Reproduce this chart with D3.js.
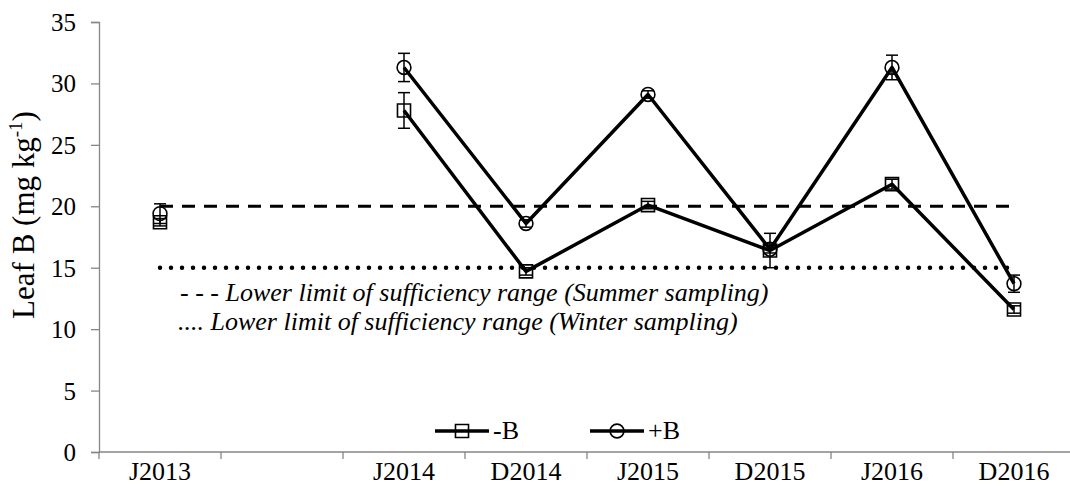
<!DOCTYPE html>
<html>
<head>
<meta charset="utf-8">
<script src="https://cdn.jsdelivr.net/npm/d3@7"></script>
<style>
  body { margin: 0; background: #fff; }
</style>
</head>
<body>
<script>
// categories on the x axis (one empty slot between J2013 and J2014)
var categories = ['J2013', '', 'J2014', 'D2014', 'J2015', 'D2015', 'J2016', 'D2016'];

// leaf B means and error bars, null = no sample
var minusB = [18.7, null, 27.8, 14.7, 20.1, 16.4, 21.8, 11.6];
var minusBErr = [0.3, null, 1.45, 0.3, 0.3, 1.4, 0.4, 0.3];
var plusB = [19.4, null, 31.3, 18.6, 29.1, 16.5, 31.3, 13.7];
var plusBErr = [0.8, null, 1.15, 0.3, 0.3, 0.3, 1.0, 0.7];

var summerLimit = 20;
var winterLimit = 15;
var yTicks = [0, 5, 10, 15, 20, 25, 30, 35];
var notes = [
  '- - - Lower limit of sufficiency range (Summer sampling)',
  '.... Lower limit of sufficiency range (Winter sampling)'
];

var width = 1070;
var height = 487;
var margin = { left: 99, right: -5, top: 22, bottom: 35 };
var serif = '"Liberation Serif", "Times New Roman", Times, serif';

var svg = d3.select('body').append('svg')
  .attr('width', width)
  .attr('height', height)
  .style('font-family', serif);

var x = d3.scaleBand()
  .domain(categories.map(function (d, i) { return i; }))
  .range([margin.left, width - margin.right])
  .paddingInner(0).paddingOuter(0);

var y = d3.scaleLinear()
  .domain([0, 35])
  .range([height - margin.bottom, margin.top]);

function cx(i) { return x(i) + x.bandwidth() / 2; }

function txt(sel, size) {
  return sel.style('font-family', serif).style('font-size', (size || 26) + 'px').attr('fill', '#000');
}

// y axis
var yAxis = svg.append('g')
  .attr('transform', 'translate(' + margin.left + ',0)')
  .call(d3.axisLeft(y).tickValues(yTicks).tickSize(8).tickPadding(15));
yAxis.attr('font-family', null).attr('font-size', null);
yAxis.select('.domain').attr('stroke', '#868686').attr('stroke-width', 1.3);
yAxis.selectAll('.tick line').attr('stroke', '#868686').attr('stroke-width', 1.3);
txt(yAxis.selectAll('.tick text'), 25).attr('dy', '0.34em');

// x axis: ticks sit between categories
var xAxisG = svg.append('g')
  .attr('transform', 'translate(0,' + y(0) + ')');
xAxisG.append('line')
  .attr('x1', margin.left).attr('x2', width + 5)
  .attr('stroke', '#868686').attr('stroke-width', 1.3);
xAxisG.selectAll('.tk')
  .data(categories.map(function (d, i) { return i; }))
  .enter().append('line')
  .attr('x1', function (i) { return x(i); })
  .attr('x2', function (i) { return x(i); })
  .attr('y1', 0).attr('y2', 7)
  .attr('stroke', '#868686').attr('stroke-width', 1.3);
txt(xAxisG.selectAll('.lbl')
  .data(categories)
  .enter().append('text')
  .attr('x', function (d, i) { return cx(i); })
  .attr('y', 28)
  .attr('text-anchor', 'middle')
  .text(function (d) { return d; }), 26);

// y label
var yl = txt(svg.append('text')
  .attr('transform', 'translate(34,' + 215 + ') rotate(-90)')
  .attr('text-anchor', 'middle'), 31);
yl.append('tspan').text('Leaf B (mg kg');
yl.append('tspan').attr('dy', -12).style('font-size', '19px').text('-1');
yl.append('tspan').attr('dy', 12).text(')');

// reference lines from first to last category
var first = 0, last = categories.length - 1;
svg.append('line')
  .attr('x1', cx(first)).attr('x2', cx(last))
  .attr('y1', y(summerLimit)).attr('y2', y(summerLimit))
  .attr('stroke', '#000').attr('stroke-width', 3)
  .attr('stroke-dasharray', '13,9');
svg.append('line')
  .attr('x1', cx(first)).attr('x2', cx(last))
  .attr('y1', y(winterLimit)).attr('y2', y(winterLimit))
  .attr('stroke', '#000').attr('stroke-width', 4.5)
  .attr('stroke-linecap', 'round')
  .attr('stroke-dasharray', '0,11');

// annotation, two lines in one text block
var note = txt(svg.append('text').style('font-style', 'italic'), 26);
note.selectAll('tspan').data(notes).enter().append('tspan')
  .attr('x', function (d, i) { return i === 0 ? 180 : 178; })
  .attr('y', function (d, i) { return 301 + i * 29; })
  .text(function (d) { return d; });

var line = d3.line()
  .defined(function (d) { return d.v !== null; })
  .x(function (d) { return cx(d.i); })
  .y(function (d) { return y(d.v); });

function symPath(shape) {
  return d3.symbol().type(shape).size(shape === d3.symbolSquare ? 170 : 150)();
}

function drawSeries(vals, errs, shape) {
  var pts = vals.map(function (v, i) { return { i: i, v: v, e: errs[i] }; });
  svg.append('path')
    .datum(pts)
    .attr('d', line)
    .attr('fill', 'none')
    .attr('stroke', '#000')
    .attr('stroke-width', 3.5)
    .attr('stroke-linejoin', 'round');

  var real = pts.filter(function (d) { return d.v !== null; });
  var eb = svg.append('g').selectAll('g').data(real).enter().append('g');
  eb.append('line')
    .attr('x1', function (d) { return cx(d.i); })
    .attr('x2', function (d) { return cx(d.i); })
    .attr('y1', function (d) { return y(d.v - d.e); })
    .attr('y2', function (d) { return y(d.v + d.e); })
    .attr('stroke', '#000').attr('stroke-width', 1.5);
  [-1, 1].forEach(function (s) {
    eb.append('line')
      .attr('x1', function (d) { return cx(d.i) - 6; })
      .attr('x2', function (d) { return cx(d.i) + 6; })
      .attr('y1', function (d) { return y(d.v + s * d.e); })
      .attr('y2', function (d) { return y(d.v + s * d.e); })
      .attr('stroke', '#000').attr('stroke-width', 1.5);
  });

  svg.append('g').selectAll('path').data(real).enter().append('path')
    .attr('d', symPath(shape))
    .attr('transform', function (d) { return 'translate(' + cx(d.i) + ',' + y(d.v) + ')'; })
    .attr('fill', 'none')
    .attr('stroke', '#000')
    .attr('stroke-width', 1.6);
}

drawSeries(minusB, minusBErr, d3.symbolSquare);
drawSeries(plusB, plusBErr, d3.symbolCircle);

// legend
var legend = [
  { name: '-B', shape: d3.symbolSquare, x: 435 },
  { name: '+B', shape: d3.symbolCircle, x: 590 }
];
var lg = svg.append('g').selectAll('g').data(legend).enter().append('g')
  .attr('transform', function (d) { return 'translate(' + d.x + ',431)'; });
lg.append('line')
  .attr('x1', 0).attr('x2', 54)
  .attr('stroke', '#000').attr('stroke-width', 3.5);
lg.append('path')
  .attr('d', function (d) { return symPath(d.shape); })
  .attr('transform', 'translate(27,0)')
  .attr('fill', 'none').attr('stroke', '#000').attr('stroke-width', 1.6);
txt(lg.append('text')
  .attr('x', 58).attr('y', 8)
  .text(function (d) { return d.name; }), 26);
</script>
</body>
</html>
